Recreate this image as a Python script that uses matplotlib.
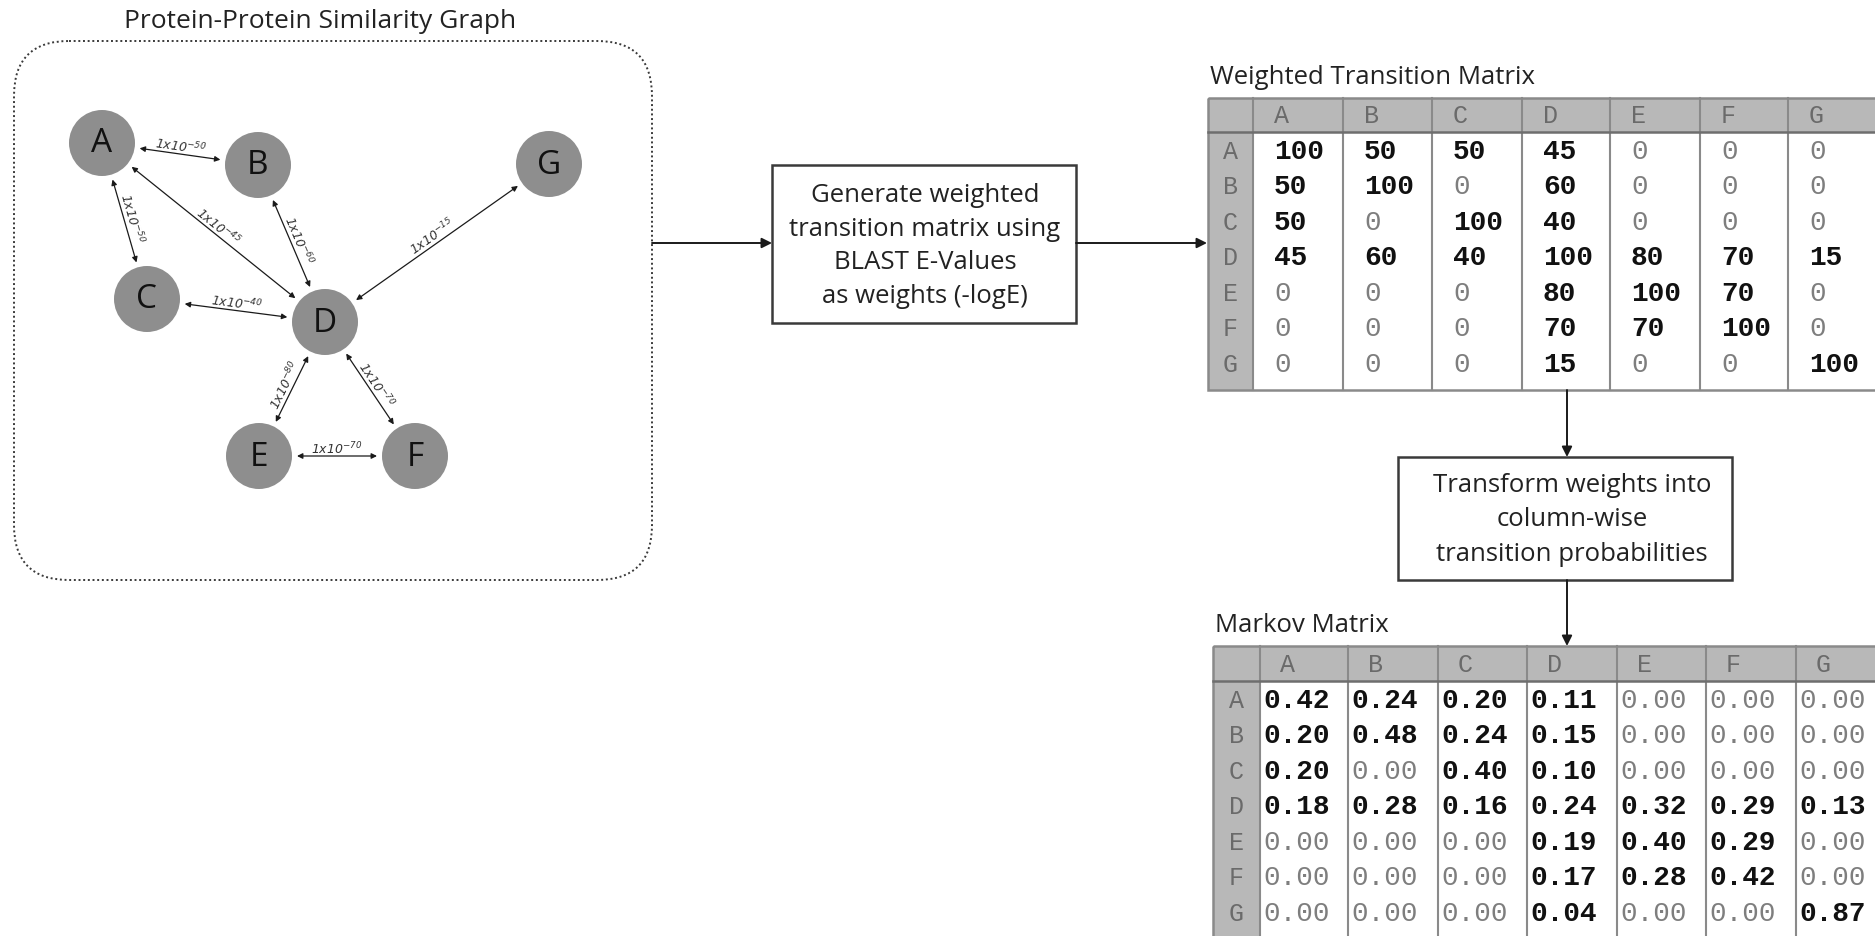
import numpy as np
import matplotlib
matplotlib.use("Agg")
import matplotlib.pyplot as plt
from matplotlib.patches import FancyBboxPatch, Circle, Rectangle

plt.rcParams['mathtext.default'] = 'regular'

# ---------------- data ----------------
labels = ['A', 'B', 'C', 'D', 'E', 'F', 'G']
node_x = [102, 258, 147, 325, 259, 415, 549]
node_y = [143, 165, 299, 322, 456, 456, 164]
edge_a = ['A', 'A', 'A', 'B', 'C', 'G', 'D', 'D', 'E']
edge_b = ['B', 'C', 'D', 'D', 'D', 'D', 'E', 'F', 'F']
edge_exp = ['-50', '-50', '-45', '-60', '-40', '-15', '-80', '-70', '-70']

weights = [
    [100, 50, 50, 45, 0, 0, 0],
    [50, 100, 0, 60, 0, 0, 0],
    [50, 0, 100, 40, 0, 0, 0],
    [45, 60, 40, 100, 80, 70, 15],
    [0, 0, 0, 80, 100, 70, 0],
    [0, 0, 0, 70, 70, 100, 0],
    [0, 0, 0, 15, 0, 0, 100],
]
markov = [
    [0.42, 0.24, 0.20, 0.11, 0.00, 0.00, 0.00],
    [0.20, 0.48, 0.24, 0.15, 0.00, 0.00, 0.00],
    [0.20, 0.00, 0.40, 0.10, 0.00, 0.00, 0.00],
    [0.18, 0.28, 0.16, 0.24, 0.32, 0.29, 0.13],
    [0.00, 0.00, 0.00, 0.19, 0.40, 0.29, 0.00],
    [0.00, 0.00, 0.00, 0.17, 0.28, 0.42, 0.00],
    [0.00, 0.00, 0.00, 0.04, 0.00, 0.00, 0.87],
]

graph_title = 'Protein-Protein Similarity Graph'
box1_text = 'Generate weighted\ntransition matrix using\nBLAST E-Values\nas weights (-logE)'
box2_text = 'Transform weights into\ncolumn-wise\ntransition probabilities'
wt_title = 'Weighted Transition Matrix'
mk_title = 'Markov Matrix'

# ---------------- figure ----------------
W, H = 1875, 936
fig = plt.figure(figsize=(W / 100, H / 100), dpi=100)
ax = fig.add_axes([0, 0, 1, 1])
ax.set_xlim(0, W)
ax.set_ylim(H, 0)
ax.axis('off')

SANS = 'Open Sans'
MONO = 'Liberation Mono'
HDR = '#b8b8b8'
SEP = '#8a8a8a'
TXT = '#222222'


def arrow(x0, y0, x1, y1, style='-|>', lw=1.4, ms=15):
    ax.annotate('', xy=(x1, y1), xytext=(x0, y0),
                arrowprops=dict(arrowstyle=style, lw=lw, color='#1a1a1a',
                                mutation_scale=ms, shrinkA=0, shrinkB=0))


# ---------------- graph panel ----------------
ax.text(320, 22, graph_title, fontsize=19, family=SANS, ha='center', va='center', color=TXT)
ax.add_patch(FancyBboxPatch((14, 41), 638, 539, boxstyle='round,pad=0,rounding_size=55',
                            fc='none', ec='#3a3a3a', lw=1.4, ls=(0, (1, 1.4))))

R = 33
pos = {l: (x, y) for l, x, y in zip(labels, node_x, node_y)}
for l in labels:
    x, y = pos[l]
    ax.add_patch(Circle((x, y), R, fc='#8e8e8e', ec='none', zorder=3))
    ax.text(x, y + 1, l, fontsize=24, family=SANS, ha='center', va='center', color='#111111', zorder=4)

gap = 5
for a, b, e in zip(edge_a, edge_b, edge_exp):
    x0, y0 = pos[a]
    x1, y1 = pos[b]
    d = np.hypot(x1 - x0, y1 - y0)
    ux, uy = (x1 - x0) / d, (y1 - y0) / d
    sx, sy = x0 + ux * (R + gap), y0 + uy * (R + gap)
    ex, ey = x1 - ux * (R + gap), y1 - uy * (R + gap)
    arrow(sx, sy, ex, ey, style='<|-|>', lw=0.9, ms=8)
    ang = np.degrees(np.arctan2(-(y1 - y0), x1 - x0))
    if ang > 90:
        ang -= 180
    elif ang <= -90:
        ang += 180
    th = np.radians(ang)
    nx, ny = -np.sin(th), -np.cos(th)
    mx, my = (sx + ex) / 2 + nx * 2, (sy + ey) / 2 + ny * 2
    ax.text(mx, my, '1x10$^{' + e + '}$', fontsize=9, family='DejaVu Sans', style='italic',
            color='#333333', rotation=ang, rotation_mode='anchor', ha='center', va='baseline', zorder=5)

# ---------------- flow boxes ----------------
arrow(652, 243, 772, 243)
ax.add_patch(Rectangle((772, 165), 304, 158, fc='white', ec='#3a3a3a', lw=1.8))
ax.text(925, 246, box1_text, fontsize=18.5, family=SANS, ha='center', va='center',
        linespacing=1.47, color=TXT)
arrow(1076, 243, 1207, 243)


def draw_table(xe, top, hh, rh, bottom, title, values, fmt, vpad, hpad):
    left, right = xe[0], xe[-1]
    ax.text(left + 2, top - 20, title, fontsize=18.5, family=SANS, ha='left', va='center', color=TXT)
    ax.add_patch(Rectangle((left, top), right - left, bottom - top, fc='white', ec='none'))
    ax.add_patch(Rectangle((left, top), right - left, hh, fc=HDR, ec='none'))
    ax.add_patch(Rectangle((left, top), xe[1] - left, bottom - top, fc=HDR, ec='none'))
    for x in xe[1:-1]:
        ax.plot([x, x], [top, bottom], color=SEP, lw=1.5)
    ax.plot([left, right], [top + hh, top + hh], color='#6e6e6e', lw=1.8)
    ax.add_patch(Rectangle((left, top), right - left, bottom - top, fc='none', ec=SEP, lw=1.8))
    for j, l in enumerate(labels):
        ax.text(xe[j + 1] + hpad, top + hh / 2 + 1, l, fontsize=18, family=MONO,
                ha='left', va='center', color='#6a6a6a')
    for i, l in enumerate(labels):
        yc = top + hh + 2 + rh * (i + 0.5)
        ax.text((xe[0] + xe[1]) / 2, yc, l, fontsize=18, family=MONO,
                ha='center', va='center', color='#6a6a6a')
        for j in range(len(labels)):
            v = values[i][j]
            nz = v != 0
            ax.text(xe[j + 1] + vpad, yc, fmt(v), fontsize=20, family=MONO,
                    fontweight='bold' if nz else 'normal',
                    color='#111111' if nz else '#7e7e7e', ha='left', va='center')


wt_x = [1208, 1253, 1343, 1432, 1522, 1610, 1700, 1788, 1878]
draw_table(wt_x, 98, 34, 35.5, 390, wt_title, weights, lambda v: f'{v:d}', 21, 21)

arrow(1567, 390, 1567, 457)
ax.add_patch(Rectangle((1398, 457), 334, 123, fc='white', ec='#3a3a3a', lw=1.8))
ax.text(1572, 520, box2_text, fontsize=18.5, family=SANS, ha='center', va='center',
        linespacing=1.5, color=TXT)
arrow(1567, 580, 1567, 646)

mk_x = [1213, 1260, 1348, 1438, 1527, 1617, 1706, 1796, 1886]
draw_table(mk_x, 646, 35, 35.5, 990, mk_title, markov, lambda v: f'{v:.2f}', 3, 20)

fig.savefig('out.png', dpi=100)
